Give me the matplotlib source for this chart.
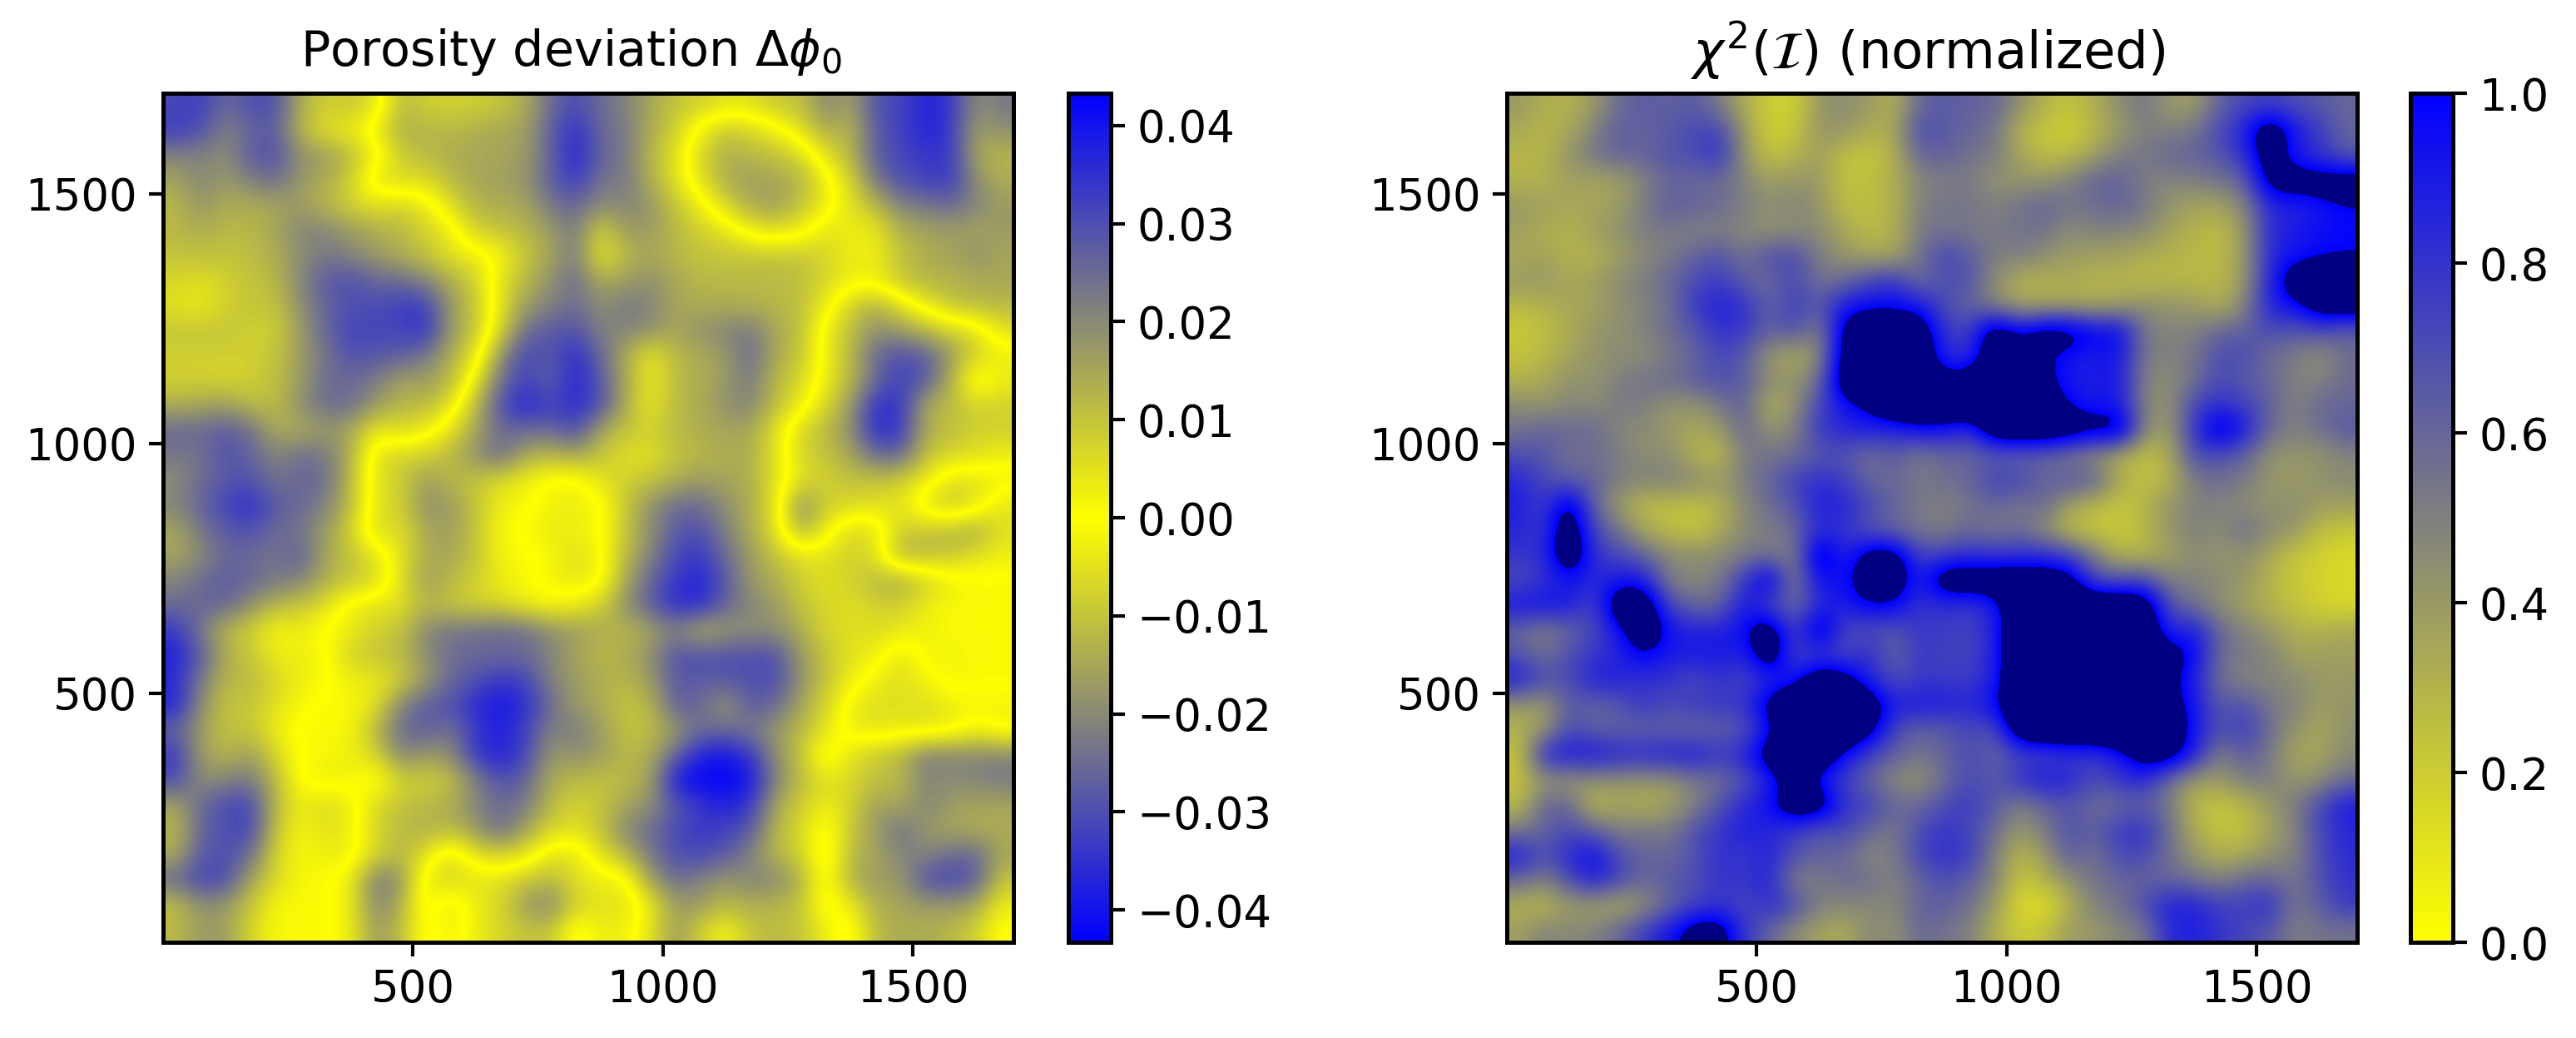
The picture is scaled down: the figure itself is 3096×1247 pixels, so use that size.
import numpy as np
import matplotlib
matplotlib.use('Agg')
import matplotlib.pyplot as plt
from matplotlib.colors import LinearSegmentedColormap

# Values, on a 50 unit grid, top row first.
# Porosity deviation, in units of 0.001. Signs flip across the yellow ridges.
porosity_rows = [
    [31,33,25,30,30,14,8,10,5,-12,-8,-8,-8,-10,-14,-25,-31,-25,-21,-15,-10,-8,-5,-5,-10,-10,-21,-15,-30,-31,-38,-34,-19,-23],
    [33,30,21,26,28,12,5,3,-3,-14,-13,-12,-14,-15,-16,-27,-36,-25,-23,-14,-8,3,10,7,3,-5,-14,-12,-28,-32,-38,-34,-16,-19],
    [21,21,19,28,30,19,17,12,3,-8,-12,-14,-15,-15,-17,-26,-38,-26,-23,-12,-5,7,14,12,11,7,-5,-12,-28,-31,-34,-34,-15,-12],
    [15,21,17,21,25,17,14,8,-5,-7,-5,-12,-15,-16,-18,-27,-34,-23,-23,-14,-5,5,14,17,15,13,3,-7,-23,-30,-32,-34,-19,-14],
    [12,18,14,14,15,17,12,8,5,8,3,-5,-13,-14,-15,-23,-26,-19,-21,-18,-10,-3,7,14,17,10,3,-5,-12,-21,-23,-25,-21,-17],
    [12,14,12,12,15,21,21,17,14,12,8,3,-8,-10,-12,-17,-23,-7,-17,-17,-12,-8,-5,3,5,3,-5,-3,-3,-14,-15,-17,-15,-17],
    [10,11,10,11,14,19,23,21,17,14,10,5,3,-1,-10,-15,-23,-3,-12,-15,-12,-10,-10,-10,-10,-10,-7,-3,-3,-10,-14,-15,-19,-15],
    [7,5,8,10,12,21,28,30,26,25,21,14,8,-5,-12,-19,-25,-14,-17,-19,-15,-12,-12,-12,-12,-11,-7,-3,-3,-10,-13,-13,-14,-15],
    [5,3,8,10,10,19,26,30,30,33,33,17,10,-5,-17,-21,-25,-19,-23,-21,-15,-14,-14,-13,-12,-11,-3,8,14,5,-3,-10,-12,-12],
    [10,10,10,8,8,17,26,32,32,31,36,17,10,-7,-25,-28,-30,-21,-21,-19,-15,-19,-21,-23,-15,-11,3,11,19,17,12,8,5,-5],
    [8,8,8,8,10,17,23,30,28,28,23,14,5,-19,-32,-28,-36,-26,-14,-3,-12,-14,-17,-26,-14,-10,3,12,26,30,28,17,8,3],
    [8,8,7,8,11,17,25,25,23,15,17,12,-3,-25,-32,-26,-38,-28,-15,-3,-12,-14,-17,-23,-12,-7,3,12,25,33,28,14,-5,3],
    [14,15,17,12,11,19,25,25,17,12,12,5,-12,-30,-38,-32,-36,-30,-14,-3,-12,-14,-19,-21,-11,-3,7,17,36,34,14,11,8,8],
    [26,26,28,25,14,14,17,15,3,7,3,-5,-15,-25,-25,-25,-31,-15,-10,-8,-12,-14,-15,-15,-5,7,12,19,36,34,14,11,8,8],
    [23,23,30,26,21,25,23,14,-5,-8,-8,-12,-19,-26,-14,-12,-15,-10,-5,-5,-10,-12,-14,-14,-5,7,10,15,25,26,10,7,5,3],
    [19,25,28,30,23,26,25,12,-5,-8,-17,-12,-10,-5,-3,2,2,-5,-8,-10,-14,-17,-15,-14,-5,5,8,10,10,8,3,-5,-5,-3],
    [21,26,32,36,28,26,21,12,-5,-8,-19,-17,-10,-3,-1,2,3,2,-10,-19,-25,-25,-19,-14,-5,21,8,7,5,5,-5,-10,-5,5],
    [15,23,28,30,25,23,17,8,-7,-5,-15,-17,-10,-1,1,4,2,1,-10,-19,-28,-30,-21,-14,-5,14,3,-7,-5,8,10,12,15,5],
    [15,19,26,25,23,28,15,10,5,-5,-14,-15,-10,-2,-1,1,6,2,-12,-21,-31,-34,-25,-17,-10,-5,-5,-8,-5,14,12,10,5,3],
    [21,25,28,26,23,21,14,10,7,-5,-17,-12,-8,-3,-1,2,4,2,-15,-26,-34,-38,-28,-17,-14,-8,-5,-8,-12,-15,-8,-3,-1,-1],
    [25,26,26,19,12,10,5,-3,-5,-5,-12,-10,-7,-7,-3,-1,-3,-8,-19,-28,-36,-36,-26,-21,-17,-10,-7,-5,-8,-8,-3,-1,-1,-1],
    [34,23,12,8,1,3,-1,-3,-8,-10,-21,-23,-25,-26,-25,-19,-17,-14,-12,-15,-21,-12,-17,-19,-19,-14,-7,-5,-6,-4,-2,-1,-1,-1],
    [38,28,14,10,3,3,1,-8,-10,-12,-19,-25,-25,-25,-25,-21,-15,-12,-14,-19,-30,-30,-30,-30,-30,-17,-10,-5,-3,5,-2,-2,-1,-1],
    [36,23,12,12,7,3,1,-3,-3,-8,-17,-25,-30,-34,-32,-21,-17,-14,-12,-17,-28,-28,-28,-30,-30,-19,-10,-3,3,6,2,-2,-1,-1],
    [38,19,10,10,5,1,-1,-1,-5,-21,-28,-30,-36,-40,-36,-25,-17,-14,-10,-12,-28,-25,-17,-28,-26,-15,-7,3,6,5,6,3,2,2],
    [26,17,10,10,3,-1,-1,-1,-12,-25,-28,-23,-34,-38,-32,-21,-23,-17,-10,-11,-17,-25,-25,-23,-17,-12,-5,3,5,4,5,3,-2,2],
    [34,17,12,17,7,-1,-1,-3,-7,-21,-17,-19,-34,-38,-32,-17,-19,-17,-12,-14,-26,-38,-40,-34,-19,-10,5,-5,-10,-12,-23,-21,-21,-21],
    [31,19,21,23,12,-1,-3,-2,3,-8,-8,-10,-21,-30,-26,-14,-12,-10,-12,-15,-40,-43,-43,-40,-21,-12,-5,-7,-10,-12,-21,-19,-21,-23],
    [15,25,31,32,12,3,7,3,-7,-10,-12,-14,-21,-25,-23,-12,-7,-10,-15,-19,-28,-34,-38,-34,-15,-8,-3,-7,-17,-14,-21,-17,-15,-15],
    [12,26,30,32,10,1,5,3,-7,-12,-14,-12,-17,-26,-15,-7,-5,-10,-21,-25,-31,-34,-32,-28,-12,-7,3,-10,-17,-25,-17,-15,-14,-14],
    [14,28,30,25,7,1,3,3,-7,-12,-5,7,-5,-7,-5,5,5,-5,-12,-23,-30,-31,-28,-21,-12,-8,5,-12,-15,-21,-21,-25,-26,-15],
    [26,32,31,15,7,1,1,-3,-23,-19,5,7,5,5,10,12,5,3,3,-17,-25,-21,-17,-21,-21,-14,3,-14,-17,-17,-30,-32,-28,-10],
    [10,19,17,10,1,1,1,-3,-21,-14,3,-5,3,7,17,21,8,5,5,-3,-17,-17,-12,-14,-12,-10,3,-3,-14,-15,-17,-17,-15,-3],
    [12,17,17,7,1,1,1,-3,-17,-12,3,-3,3,7,10,10,-3,3,3,-5,-17,-8,-1,-10,-12,-10,-3,3,-12,-14,-14,-12,-8,1],
]

# Normalized chi2 in percent; anything above 100 falls in the navy over colour.
chi2_rows = [
    [40,32,30,40,58,65,62,65,52,32,20,18,42,45,40,30,60,65,62,60,45,30,24,32,45,55,40,38,62,72,75,70,65,60],
    [34,28,34,50,65,60,65,72,75,40,18,22,42,42,32,34,72,65,60,55,30,22,18,28,40,50,50,55,72,88,125,92,78,60],
    [28,30,42,55,60,62,68,70,82,42,24,30,38,24,22,30,60,62,55,52,36,26,28,38,52,54,60,62,66,82,118,88,80,66],
    [30,30,38,34,38,48,60,58,58,48,38,42,40,24,26,32,48,50,52,42,42,42,50,62,62,50,48,50,55,62,115,115,115,118],
    [40,38,34,36,38,52,65,62,58,52,44,50,42,26,26,30,50,55,55,50,55,62,55,56,62,54,42,36,36,48,85,86,92,98],
    [38,32,30,38,44,52,52,48,50,46,42,44,46,34,26,32,52,54,52,52,55,55,45,50,48,46,36,30,26,40,84,90,95,98],
    [34,36,30,30,38,46,52,62,68,55,70,72,50,42,36,34,56,74,65,50,52,45,38,38,36,32,30,28,26,40,84,92,97,98],
    [40,42,34,38,46,52,60,70,78,62,58,72,55,58,72,80,55,70,68,45,30,30,34,28,30,26,28,28,28,40,86,120,122,125],
    [28,30,36,36,44,48,56,78,88,82,60,78,64,92,96,96,92,70,60,48,36,34,34,34,36,46,42,40,30,48,88,94,120,122],
    [20,26,32,42,44,50,58,66,82,78,62,70,48,112,125,125,122,78,75,122,96,118,115,98,100,52,48,50,60,62,72,66,72,62],
    [24,28,36,42,46,44,52,60,72,66,40,32,44,115,128,128,125,84,80,125,122,102,92,90,92,52,50,54,70,72,56,52,42,58],
    [30,34,44,42,50,56,58,64,70,64,46,42,56,125,128,128,118,110,115,128,125,108,90,88,92,48,44,56,72,64,60,50,48,58],
    [46,42,48,45,54,50,42,42,52,64,30,42,74,92,105,128,128,128,128,128,128,118,98,90,92,48,42,74,82,76,62,48,60,60],
    [55,62,58,60,46,46,40,34,38,60,42,50,78,85,88,84,94,92,80,125,128,128,122,112,118,46,38,80,112,90,58,50,55,66],
    [70,66,56,56,52,44,46,30,26,52,56,56,66,68,54,66,50,60,60,62,60,60,50,42,30,24,32,72,68,62,42,42,42,48],
    [85,72,62,62,50,50,50,48,40,52,60,76,82,76,60,58,54,56,60,76,74,60,68,64,34,24,30,52,58,52,42,38,44,46],
    [90,75,115,60,38,26,26,24,30,46,58,66,90,86,72,62,52,50,54,60,52,60,36,28,22,30,42,50,48,45,42,46,38,38],
    [85,78,125,72,56,34,26,22,32,48,50,60,82,80,66,58,54,50,60,52,58,44,26,22,20,28,42,50,46,58,46,42,26,22],
    [80,82,128,80,72,62,46,46,46,52,54,48,120,82,115,118,72,78,82,80,82,82,76,52,30,30,36,46,40,44,34,22,18,15],
    [70,80,92,84,92,90,50,46,52,78,112,46,96,92,120,120,86,122,122,122,122,122,115,70,70,72,50,50,46,42,30,22,18,15],
    [92,96,90,72,125,125,72,60,60,92,70,58,84,90,100,100,78,82,78,88,128,130,130,130,130,125,68,55,44,36,30,24,18,15],
    [60,48,60,72,92,128,92,88,88,96,125,70,118,70,70,65,80,76,74,86,130,130,130,130,130,125,82,92,58,50,40,32,30,35],
    [68,56,70,80,86,100,90,90,92,85,125,72,76,72,84,60,78,74,74,86,130,130,130,130,130,125,115,98,58,52,50,36,38,38],
    [90,70,70,88,86,80,80,70,80,72,84,92,125,115,86,70,78,78,76,88,130,130,130,130,130,125,105,88,55,48,48,46,40,40],
    [40,38,65,60,66,80,70,78,78,80,112,125,128,128,122,88,92,88,86,96,130,130,130,130,130,125,115,92,65,70,52,50,38,42],
    [30,40,72,62,62,60,62,58,62,65,94,128,130,128,112,72,60,65,72,68,125,130,130,130,130,128,122,92,68,78,58,42,34,44],
    [22,88,92,92,86,86,88,92,78,88,118,128,125,96,74,62,55,60,72,60,72,72,78,78,92,115,118,88,48,65,52,35,36,46],
    [24,40,40,44,42,42,42,52,56,66,88,112,92,74,60,45,40,58,72,64,82,92,86,70,80,86,55,38,40,52,52,40,44,58],
    [26,62,60,25,36,30,36,48,68,84,96,122,122,80,76,60,60,70,78,66,50,60,68,56,58,62,52,28,22,28,40,52,72,90],
    [52,60,72,62,50,54,52,70,78,90,84,78,65,74,60,52,70,80,72,58,40,52,70,62,78,82,58,32,24,24,36,48,72,85],
    [90,68,85,96,70,60,60,66,84,76,88,68,62,60,45,52,74,82,78,50,28,40,65,54,72,72,55,42,30,34,44,48,70,84],
    [60,50,70,90,72,60,66,70,80,80,86,48,52,58,58,48,60,70,62,50,22,30,44,55,60,60,60,55,50,60,60,54,68,80],
    [30,26,40,36,32,42,60,72,80,70,84,72,50,48,46,48,62,64,56,40,14,12,30,50,55,72,88,88,75,76,84,52,64,78],
    [38,50,46,50,60,78,92,115,115,80,60,45,36,32,48,42,60,55,50,32,20,24,40,40,48,52,85,88,80,72,66,50,55,55],
]

axis_ticks = [500, 1000, 1500]
porosity_cbar_ticks = [-0.04, -0.03, -0.02, -0.01, 0.0, 0.01, 0.02, 0.03, 0.04]
chi2_cbar_ticks = [0.0, 0.2, 0.4, 0.6, 0.8, 1.0]
porosity_limit = 0.0433

W, H = 3096, 1247
plt.rcParams['font.size'] = 12.7
plt.rcParams['axes.linewidth'] = 1.2

cmap_sym = LinearSegmentedColormap.from_list('sym', ['blue', 'gray', 'yellow', 'gray', 'blue'], N=256)
cmap_chi = LinearSegmentedColormap.from_list('chi', ['yellow', 'gray', 'blue'], N=256)
cmap_chi.set_over('navy')


def pixel_axes(fig, x0, y0, x1, y1):
    # box given in reference pixels, y measured from the top
    return fig.add_axes([x0 / W, 1 - y1 / H, (x1 - x0) / W, (y1 - y0) / H])


def draw_panel(fig, box, cbar_box, values, cmap, vmin, vmax, title, title_style, cbar_ticks):
    ax = pixel_axes(fig, *box)
    im = ax.imshow(values, cmap=cmap, vmin=vmin, vmax=vmax, origin='upper',
                   extent=(1, 1701, 1, 1701), aspect='auto',
                   interpolation='bicubic', interpolation_stage='data')
    ax.set_xticks(axis_ticks)
    ax.set_yticks(axis_ticks)
    ax.tick_params(length=4, width=1)
    ax.set_title(title, **title_style)

    cax = pixel_axes(fig, *cbar_box)
    cbar = fig.colorbar(im, cax=cax, ticks=cbar_ticks)
    cbar.ax.tick_params(length=4, width=1)
    cbar.outline.set_linewidth(1.2)


porosity = np.array(porosity_rows) / 1000
chi2 = np.array(chi2_rows) / 100

fig = plt.figure(figsize=(W / 300, H / 300), dpi=300)
draw_panel(fig, (196, 112, 1218, 1132), (1284, 112, 1335, 1132), porosity, cmap_sym,
           -porosity_limit, porosity_limit, r'Porosity deviation $\Delta\phi_0$',
           dict(fontsize=14.1, pad=8, x=0.48), porosity_cbar_ticks)
draw_panel(fig, (1811, 112, 2833, 1132), (2897, 112, 2948, 1132), chi2, cmap_chi,
           0, 1, r'$\chi^2(\mathcal{I})$ (normalized)',
           dict(fontsize=15, pad=7, x=0.495), chi2_cbar_ticks)

fig.savefig('out.png', dpi=300)
